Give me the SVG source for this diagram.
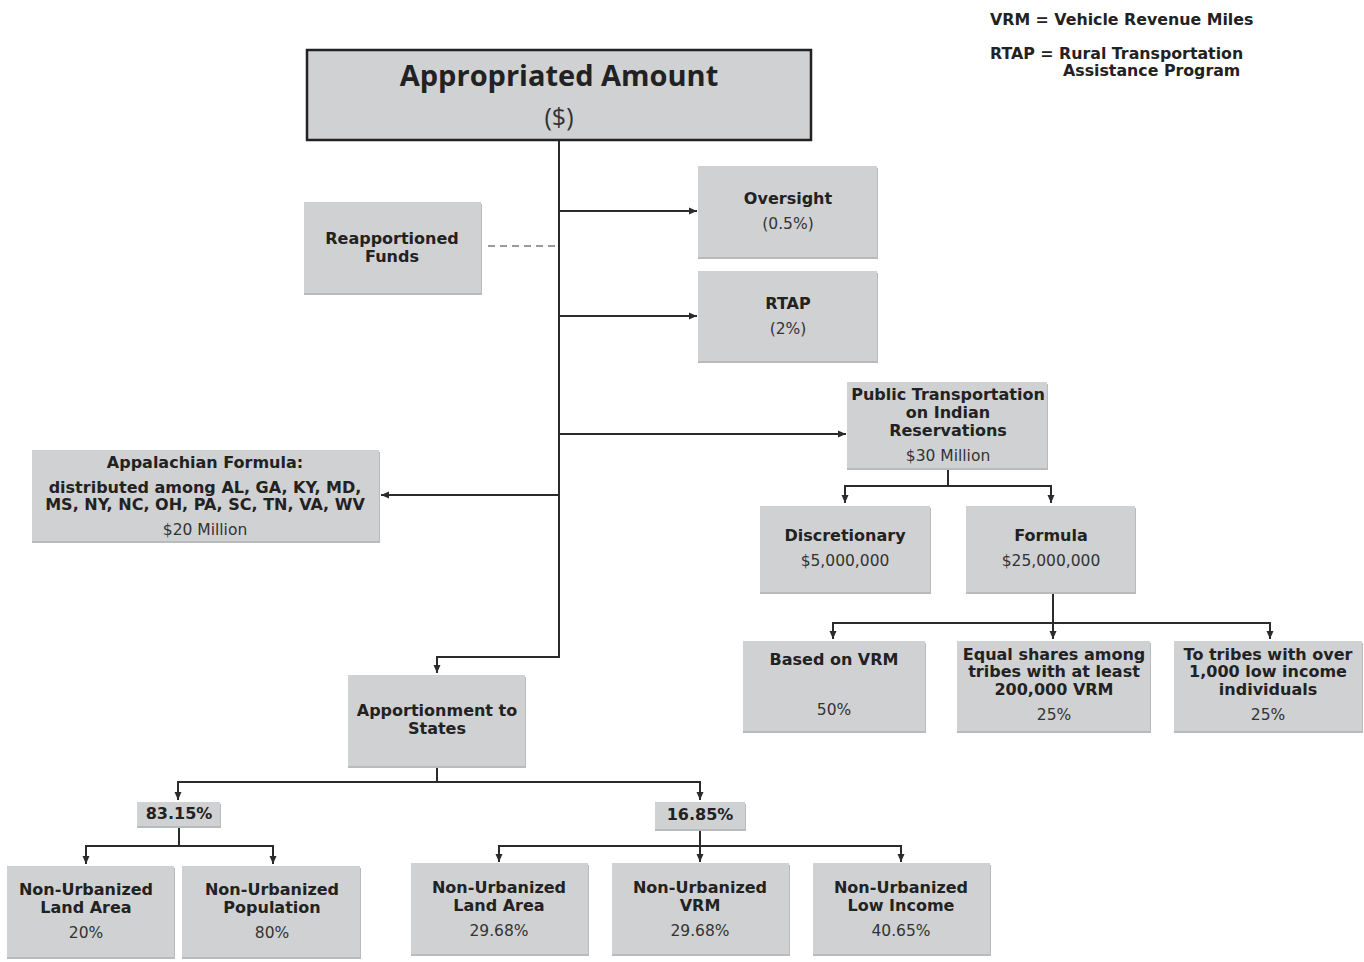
<svg xmlns="http://www.w3.org/2000/svg" width="1364" height="962" viewBox="0 0 1364 962">
<defs>
<marker id="arr" markerWidth="10" markerHeight="10" refX="8" refY="5" orient="auto" markerUnits="userSpaceOnUse">
<path d="M0,1.5 L8,5 L0,8.5 Z" fill="#2b2b2b"/>
</marker>
</defs>
<style>
.box{fill:#d0d1d3;}
.sh{fill:#b9babc;}
.top{fill:#d0d1d3;stroke:#222;stroke-width:2.5;}
.b{font-family:"DejaVu Sans",Verdana,sans-serif;font-weight:bold;font-size:16px;fill:#222;text-anchor:middle;}
.r{font-family:"DejaVu Sans",Verdana,sans-serif;font-size:15.5px;fill:#333;text-anchor:middle;}
.lg{font-family:"DejaVu Sans",Verdana,sans-serif;font-weight:bold;font-size:15.8px;fill:#222;}
.t1{font-family:"Open Sans","Noto Sans",sans-serif;font-weight:bold;font-size:29px;fill:#222;text-anchor:middle;}
.t2{font-family:"Open Sans","Noto Sans",sans-serif;font-size:25px;fill:#333;text-anchor:middle;}
.c{fill:none;stroke:#2b2b2b;stroke-width:2;}
.ca{fill:none;stroke:#2b2b2b;stroke-width:2;marker-end:url(#arr);}
.d{fill:none;stroke:#999;stroke-width:2;stroke-dasharray:7,5;}
</style>
<rect width="1364" height="962" fill="#fff"/>

<g id="legend">
<text class="lg" x="990" y="25">VRM = Vehicle Revenue Miles</text>
<text class="lg" x="990" y="59">RTAP = Rural Transportation</text>
<text class="lg" x="1063" y="76">Assistance Program</text>
</g>

<g id="connectors">
<path class="c" d="M559,141 V657 H437"/>
<path class="ca" d="M437,656 V673"/>
<path class="ca" d="M559,211 H697"/>
<path class="ca" d="M559,316 H697"/>
<path class="ca" d="M559,434 H846"/>
<path class="ca" d="M559,495 H381"/>
<path class="d" d="M488,246 H557"/>
<path class="c" d="M948,469 V486 M845,486 H1051"/>
<path class="ca" d="M845,485 V503"/>
<path class="ca" d="M1051,485 V503"/>
<path class="c" d="M1053,593 V623 M833,623 H1270"/>
<path class="ca" d="M833,622 V639"/>
<path class="ca" d="M1053,622 V639"/>
<path class="ca" d="M1270,622 V639"/>
<path class="c" d="M437,767 V782 M178,782 H700"/>
<path class="ca" d="M178,781 V800"/>
<path class="ca" d="M700,781 V800"/>
<path class="c" d="M179,827 V846 M86,846 H273"/>
<path class="ca" d="M86,845 V864"/>
<path class="ca" d="M273,845 V864"/>
<path class="c" d="M700,830 V846 M499,846 H901"/>
<path class="ca" d="M499,845 V862"/>
<path class="ca" d="M700,845 V862"/>
<path class="ca" d="M901,845 V862"/>
</g>

<g id="appropriated">
<rect class="top" x="307" y="50" width="504" height="90"/>
<text class="t1" x="559" y="86">Appropriated Amount</text>
<text class="t2" x="559" y="126">($)</text>
</g>

<g id="oversight">
<rect class="sh" x="698" y="168" width="180" height="91"/>
<rect class="box" x="698" y="166" width="179" height="91"/>
<text class="b" x="788" y="204">Oversight</text>
<text class="r" x="788" y="229">(0.5%)</text>
</g>

<g id="rtap">
<rect class="sh" x="698" y="273" width="180" height="90"/>
<rect class="box" x="698" y="271" width="179" height="90"/>
<text class="b" x="788" y="309">RTAP</text>
<text class="r" x="788" y="334">(2%)</text>
</g>

<g id="reapportioned">
<rect class="sh" x="304" y="204" width="178" height="91"/>
<rect class="box" x="304" y="202" width="177" height="91"/>
<text class="b" x="392" y="244">Reapportioned</text>
<text class="b" x="392" y="262">Funds</text>
</g>

<g id="public-transportation">
<rect class="sh" x="847" y="384" width="201" height="86"/>
<rect class="box" x="847" y="382" width="200" height="86"/>
<text class="b" x="948" y="400">Public Transportation</text>
<text class="b" x="948" y="418">on Indian</text>
<text class="b" x="948" y="436">Reservations</text>
<text class="r" x="948" y="461">$30 Million</text>
</g>

<g id="appalachian">
<rect class="sh" x="32" y="452" width="348" height="91"/>
<rect class="box" x="32" y="450" width="347" height="91"/>
<text class="b" x="205" y="468">Appalachian Formula:</text>
<text class="b" x="205" y="493">distributed among AL, GA, KY, MD,</text>
<text class="b" x="205" y="510">MS, NY, NC, OH, PA, SC, TN, VA, WV</text>
<text class="r" x="205" y="535">$20 Million</text>
</g>

<g id="discretionary">
<rect class="sh" x="760" y="508" width="171" height="86"/>
<rect class="box" x="760" y="506" width="170" height="86"/>
<text class="b" x="845" y="541">Discretionary</text>
<text class="r" x="845" y="566">$5,000,000</text>
</g>

<g id="formula">
<rect class="sh" x="966" y="508" width="170" height="86"/>
<rect class="box" x="966" y="506" width="169" height="86"/>
<text class="b" x="1051" y="541">Formula</text>
<text class="r" x="1051" y="566">$25,000,000</text>
</g>

<g id="based-vrm">
<rect class="sh" x="743" y="643" width="183" height="90"/>
<rect class="box" x="743" y="641" width="182" height="90"/>
<text class="b" x="834" y="665">Based on VRM</text>
<text class="r" x="834" y="715">50%</text>
</g>

<g id="equal-shares">
<rect class="sh" x="957" y="643" width="194" height="90"/>
<rect class="box" x="957" y="641" width="193" height="90"/>
<text class="b" x="1054" y="660">Equal shares among</text>
<text class="b" x="1054" y="677">tribes with at least</text>
<text class="b" x="1054" y="695">200,000 VRM</text>
<text class="r" x="1054" y="720">25%</text>
</g>

<g id="low-income-tribes">
<rect class="sh" x="1174" y="643" width="189" height="90"/>
<rect class="box" x="1174" y="641" width="188" height="90"/>
<text class="b" x="1268" y="660">To tribes with over</text>
<text class="b" x="1268" y="677">1,000 low income</text>
<text class="b" x="1268" y="695">individuals</text>
<text class="r" x="1268" y="720">25%</text>
</g>

<g id="apportionment">
<rect class="sh" x="348" y="677" width="178" height="91"/>
<rect class="box" x="348" y="675" width="177" height="91"/>
<text class="b" x="437" y="716">Apportionment to</text>
<text class="b" x="437" y="734">States</text>
</g>

<g id="pct-8315">
<rect class="sh" x="137" y="804" width="84" height="24"/>
<rect class="box" x="137" y="802" width="83" height="24"/>
<text class="b" x="179" y="819">83.15%</text>
</g>

<g id="pct-1685">
<rect class="sh" x="655" y="804" width="91" height="27"/>
<rect class="box" x="655" y="802" width="90" height="27"/>
<text class="b" x="700" y="820">16.85%</text>
</g>

<g id="nu-land-1">
<rect class="sh" x="7" y="868" width="168" height="91"/>
<rect class="box" x="7" y="866" width="167" height="91"/>
<text class="b" x="86" y="895">Non-Urbanized</text>
<text class="b" x="86" y="913">Land Area</text>
<text class="r" x="86" y="938">20%</text>
</g>

<g id="nu-pop">
<rect class="sh" x="182" y="868" width="179" height="91"/>
<rect class="box" x="182" y="866" width="178" height="91"/>
<text class="b" x="272" y="895">Non-Urbanized</text>
<text class="b" x="272" y="913">Population</text>
<text class="r" x="272" y="938">80%</text>
</g>

<g id="nu-land-2">
<rect class="sh" x="411" y="865" width="178" height="91"/>
<rect class="box" x="411" y="863" width="177" height="91"/>
<text class="b" x="499" y="893">Non-Urbanized</text>
<text class="b" x="499" y="911">Land Area</text>
<text class="r" x="499" y="936">29.68%</text>
</g>

<g id="nu-vrm">
<rect class="sh" x="612" y="865" width="178" height="91"/>
<rect class="box" x="612" y="863" width="177" height="91"/>
<text class="b" x="700" y="893">Non-Urbanized</text>
<text class="b" x="700" y="911">VRM</text>
<text class="r" x="700" y="936">29.68%</text>
</g>

<g id="nu-lowincome">
<rect class="sh" x="813" y="865" width="178" height="91"/>
<rect class="box" x="813" y="863" width="177" height="91"/>
<text class="b" x="901" y="893">Non-Urbanized</text>
<text class="b" x="901" y="911">Low Income</text>
<text class="r" x="901" y="936">40.65%</text>
</g>
</svg>
